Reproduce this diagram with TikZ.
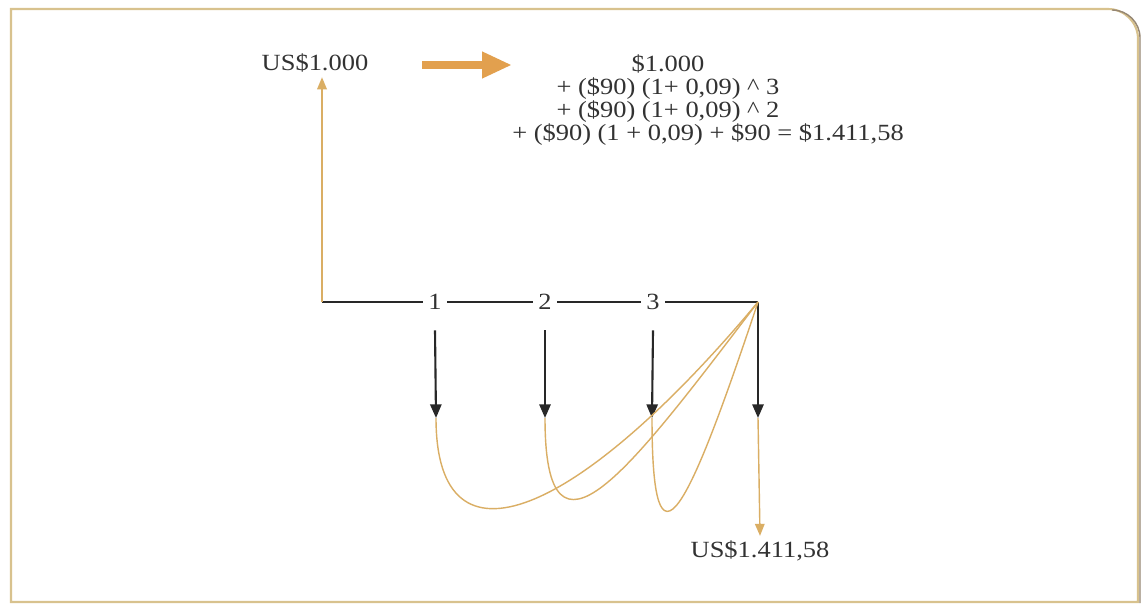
\documentclass[tikz,border=0pt]{standalone}
\usepackage{fontspec}
\setmainfont[FakeStretch=1.14]{Liberation Serif}
\usetikzlibrary{arrows.meta,positioning}
\definecolor{framegold}{RGB}{216,194,142}
\definecolor{frameshade}{RGB}{150,135,115}
\definecolor{flowgold}{RGB}{218,174,100}
\definecolor{bigarrow}{RGB}{226,160,78}
\definecolor{axisgray}{RGB}{40,40,40}
\definecolor{textgray}{RGB}{50,50,50}

\begin{document}
\begin{tikzpicture}[x=0.025cm, y=-0.025cm,
    every node/.style={font=\fontsize{16.5}{16.3}\selectfont, text=textgray},
    tick/.style={inner sep=0pt, minimum width=0.6cm, minimum height=1.4cm},
    axis/.style={draw=axisgray, line width=1.5pt},
    pay/.style={axis, -{Triangle[length=0.34cm,width=0.28cm]}},
    flow/.style={draw=flowgold, line width=1pt},
    flowarrow/.style={flow, -{Triangle[length=0.3cm,width=0.24cm]}}]
    \useasboundingbox (0,0) rectangle (1142,604);
    \fill[white] (0,0) rectangle (1142,604);
    % frame
    \draw[framegold, line width=1.5pt] (11,602) -- (11,9) -- (1108,9)
      to[out=0,in=90] (1138,39) -- (1138,602) -- cycle;
    \draw[frameshade, line width=1pt] (1112,10) to[out=0,in=90] (1140,38) -- (1140,603);

    % values
    \node (pv) at (315,63) {US\$1.000};
    \node[align=center] (fv) at (668,100) {
      \$1.000\\
      + (\$90) (1+ 0,09) \textasciicircum\ 3\\
      + (\$90) (1+ 0,09) \textasciicircum\ 2\\
      \hspace*{2cm}+ (\$90) (1 + 0,09) + \$90 = \$1.411,58
    };
    \node (total) at (760,551) {US\$1.411,58};
    \coordinate (ga) at (422,65);
    \coordinate (gb) at (512,65);
    \draw[bigarrow, line width=5.5pt, -{Triangle[length=0.75cm,width=0.62cm]}] (ga) -- (gb);

    % time line
    \coordinate (t0) at (322,302);
    \node[tick] (n1) at (435,302) {1};
    \node[tick] (n2) at (545,302) {2};
    \node[tick] (n3) at (653,302) {3};
    \coordinate (t4) at (758,302);
    \draw[axis] (t0) -- (n1) -- (n2) -- (n3) -- (t4);
    \draw[flowarrow] (t0) -- (t0 |- pv.south);

    % payments
    \coordinate (d1) at (436,418);
    \coordinate (d2) at (545,418);
    \coordinate (d3) at (652,418);
    \coordinate (d4) at (758,418);
    \draw[pay] (n1.south) -- (d1);
    \draw[pay] (n2.south) -- (d2);
    \draw[pay] (n3.south) -- (d3);
    \draw[pay] (t4) -- (d4);

    % compounding
    \draw[flow] (d1) .. controls +(0,162) and +(-178,213) .. (t4);
    \draw[flow] (d2) .. controls +(0,167) and +(-128,168) .. (t4);
    \draw[flow] (d3) .. controls +(0,170) and +(-70,210) .. (t4);
    \draw[flowarrow] (d4) -- (total.north);
  \end{tikzpicture}
\end{document}
